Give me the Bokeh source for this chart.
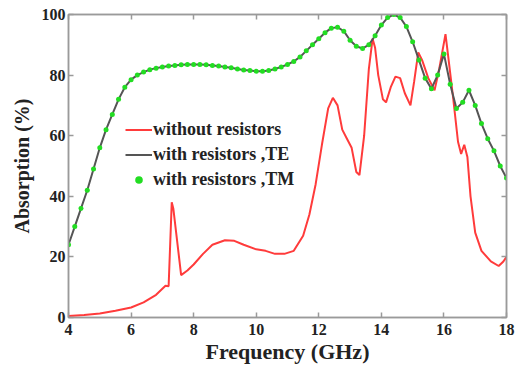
from bokeh.plotting import figure
from bokeh.models import LinearAxis, Legend, LegendItem, FixedTicker
from bokeh.embed import file_html
from bokeh.resources import INLINE

# Red curve: without resistors
red_freq = [4.0, 4.5, 5.0, 5.5, 6.0, 6.4, 6.8, 7.0, 7.1, 7.2, 7.3, 7.35, 7.6, 7.8, 8.0,
            8.3, 8.6, 9.0, 9.3, 9.6, 10.0, 10.3, 10.6, 10.9, 11.2, 11.5, 11.7, 11.9,
            12.1, 12.3, 12.45, 12.6, 12.75, 12.9, 13.05, 13.2, 13.3, 13.45, 13.6, 13.72,
            13.8, 13.9, 14.05, 14.15, 14.3, 14.45, 14.6, 14.75, 14.93, 15.05, 15.18,
            15.3, 15.5, 15.7, 15.85, 16.05, 16.15, 16.3, 16.45, 16.55, 16.65, 16.75,
            16.85, 17.0, 17.2, 17.5, 17.75, 17.9, 18.0]
red_abs = [0.5, 0.8, 1.3, 2.2, 3.3, 5.0, 7.5, 9.5, 10.5, 10.3, 38.0, 36.0, 14.0, 15.5, 17.5,
           21.0, 24.0, 25.5, 25.3, 24.0, 22.5, 22.0, 21.0, 21.0, 22.0, 27.0, 34.0, 44.0,
           57.0, 69.0, 72.5, 70.0, 62.0, 59.0, 56.0, 48.0, 47.0, 60.0, 82.0, 92.0,
           89.0, 80.0, 72.0, 71.0, 76.0, 79.5, 79.0, 74.0, 70.0, 78.0, 87.5,
           85.0, 79.0, 75.0, 82.0, 93.5, 85.0, 72.0, 58.0, 54.0, 57.0, 53.0,
           40.0, 28.0, 22.0, 18.5, 17.0, 18.5, 20.0]

# With resistors (TE line and TM markers), sampled every 0.2 GHz
res_freq = [4.0, 4.2, 4.4, 4.6, 4.8, 5.0, 5.2, 5.4, 5.6, 5.8, 6.0, 6.2, 6.4, 6.6, 6.8,
            7.0, 7.2, 7.4, 7.6, 7.8, 8.0, 8.2, 8.4, 8.6, 8.8, 9.0, 9.2, 9.4, 9.6, 9.8,
            10.0, 10.2, 10.4, 10.6, 10.8, 11.0, 11.2, 11.4, 11.6, 11.8, 12.0, 12.2, 12.4,
            12.6, 12.8, 13.0, 13.2, 13.4, 13.6, 13.8, 14.0, 14.2, 14.4, 14.6, 14.8, 15.0,
            15.2, 15.4, 15.6, 15.8, 16.0, 16.2, 16.4, 16.6, 16.8, 17.0, 17.2, 17.4, 17.6,
            17.8, 18.0]
te_abs = [24, 30, 36, 42, 49, 56, 62, 67, 72, 76, 78.5, 80, 81, 81.8, 82.3,
          82.7, 83, 83.2, 83.4, 83.5, 83.5, 83.5, 83.4, 83.2, 83, 82.7, 82.4, 82, 81.7, 81.5,
          81.3, 81.3, 81.5, 82, 82.7, 83.5, 84.5, 86, 88, 90, 92, 94, 95.5,
          95.8, 94.5, 91.5, 89.5, 88.8, 90, 93, 96.5, 99, 100, 99, 96, 91,
          85, 79, 75.5, 80, 87, 77, 69, 71, 75, 70, 64, 59, 55,
          50, 46]
tm_abs = [24, 30, 36, 42, 49, 56, 62, 67, 72, 76, 78.5, 80, 81, 81.8, 82.3,
          82.7, 83, 83.2, 83.4, 83.5, 83.5, 83.5, 83.4, 83.2, 83, 82.7, 82.4, 82, 81.7, 81.5,
          81.3, 81.3, 81.5, 82, 82.7, 83.5, 84.5, 86, 88, 90, 92, 94, 95.5,
          95.8, 94.5, 91.5, 89.5, 88.8, 90, 93, 96.5, 99, 100, 99, 96, 91,
          85, 79, 75.5, 80, 87, 77, 69, 71, 75, 70, 64, 59, 55,
          50, 46]

x_ticks = [4, 6, 8, 10, 12, 14, 16, 18]
y_ticks = [0, 20, 40, 60, 80, 100]
labels = ["without resistors", "with resistors ,TE", "with resistors ,TM"]

FONT = "Liberation Serif"

p = figure(width=519, height=365, output_backend="svg", toolbar_location=None,
           x_range=(4, 18), y_range=(0, 100),
           min_border_left=68, min_border_right=13, min_border_top=14, min_border_bottom=48,
           frame_width=438, frame_height=303)
p.background_fill_color = "white"
p.border_fill_color = "white"
p.outline_line_color = "#9a9a9a"
p.outline_line_width = 1.5
p.xgrid.visible = False
p.ygrid.visible = False

r_red = p.line(red_freq, red_abs, line_color="#ff3b3b", line_width=2)
r_te = p.line(res_freq, te_abs, line_color="#555555", line_width=2)
r_tm = p.scatter(res_freq, tm_abs, size=5, fill_color="#22dd22", line_color=None)

def style_axis(ax):
    ax.axis_line_color = "#9a9a9a"
    ax.axis_line_width = 1.5
    ax.major_tick_in = 5
    ax.major_tick_out = 0
    ax.major_tick_line_color = "#9a9a9a"
    ax.major_tick_line_width = 1.5
    ax.minor_tick_line_color = None
    ax.major_label_text_font = FONT
    ax.major_label_text_font_style = "bold"
    ax.major_label_text_font_size = "16px"
    ax.major_label_text_color = "#222222"
    ax.axis_label_text_font = FONT
    ax.axis_label_text_font_style = "bold"
    ax.axis_label_text_color = "#222222"

p.xaxis.ticker = FixedTicker(ticks=x_ticks)
p.yaxis.ticker = FixedTicker(ticks=y_ticks)
style_axis(p.xaxis[0])
style_axis(p.yaxis[0])
p.xaxis.axis_label = "Frequency (GHz)"
p.yaxis.axis_label = "Absorption (%)"
p.xaxis.axis_label_text_font_size = "22px"
p.yaxis.axis_label_text_font_size = "20px"
p.xaxis.major_label_standoff = 6
p.yaxis.major_label_standoff = 3
p.xaxis.axis_label_standoff = 1
p.yaxis.axis_label_standoff = 6

top = LinearAxis(ticker=FixedTicker(ticks=x_ticks),
                 major_label_overrides={t: "" for t in x_ticks})
right = LinearAxis(ticker=FixedTicker(ticks=y_ticks),
                   major_label_overrides={t: "" for t in y_ticks})
style_axis(top)
style_axis(right)
top.major_label_standoff = 0
right.major_label_standoff = 0
p.add_layout(top, "above")
p.add_layout(right, "right")

legend = Legend(items=[LegendItem(label=labels[0], renderers=[r_red]),
                       LegendItem(label=labels[1], renderers=[r_te]),
                       LegendItem(label=labels[2], renderers=[r_tm])],
                location=(57, 127))
legend.border_line_color = None
legend.background_fill_alpha = 0
legend.padding = 0
legend.margin = 0
legend.spacing = 4
legend.glyph_width = 27
legend.glyph_height = 19
legend.label_height = 19
legend.label_standoff = 1
legend.label_text_font = FONT
legend.label_text_font_style = "bold"
legend.label_text_font_size = "18px"
legend.label_text_color = "#222222"
p.add_layout(legend, "center")

open("out.html", "w").write(file_html(p, INLINE))
